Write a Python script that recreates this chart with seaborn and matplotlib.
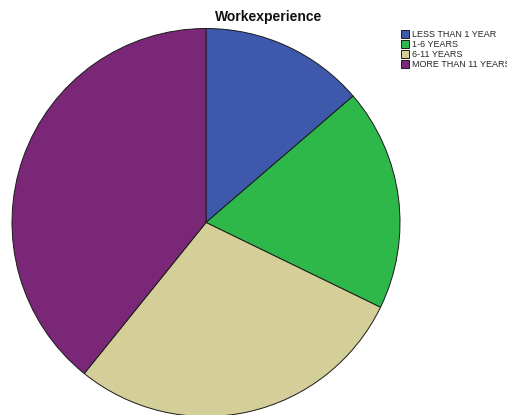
import matplotlib
matplotlib.use("Agg")
import matplotlib.pyplot as plt
import seaborn as sns

# Share of respondents by work experience (percent)
categories = ["LESS THAN 1 YEAR", "1-6 YEARS", "6-11 YEARS", "MORE THAN 11 YEARS"]
shares = [13.7, 18.5, 28.6, 39.2]
colors = ["#3E58AC", "#2EB84A", "#D4CE98", "#7B2778"]

sns.set_theme(style="white")
plt.rcParams["font.family"] = ["Liberation Sans", "DejaVu Sans"]

W, H = 507, 415
fig = plt.figure(figsize=(W / 100, H / 100), dpi=100)
fig.patch.set_facecolor("white")

# Square axes holding the pie, positioned in pixel units
cx, cy, r = 206, 222.5, 194
ax = fig.add_axes([(cx - r) / W, (H - cy - r) / H, 2 * r / W, 2 * r / H])

wedges, _ = ax.pie(
    shares,
    colors=sns.color_palette(colors),
    startangle=90,
    counterclock=False,
    radius=1,
    wedgeprops=dict(edgecolor="#1a1a1a", linewidth=0.7),
)
for w in wedges:
    w.set_clip_on(False)
ax.set_aspect("auto")
ax.set_xlim(-1, 1)
ax.set_ylim(-1, 1)
ax.axis("off")

fig.text(269 / W, 1 - 17 / H, "Workexperience", ha="center", va="center",
         fontsize=10, fontweight="bold", color="#111111")

fig.legend(
    wedges, categories,
    loc="upper left",
    bbox_to_anchor=(401 / W, 1 - 30 / H),
    frameon=False,
    fontsize=6.5,
    handlelength=0.9,
    handleheight=0.9,
    handletextpad=0.3,
    labelspacing=0.12,
    borderpad=0,
    borderaxespad=0,
)

fig.savefig("out.png", dpi=100)
